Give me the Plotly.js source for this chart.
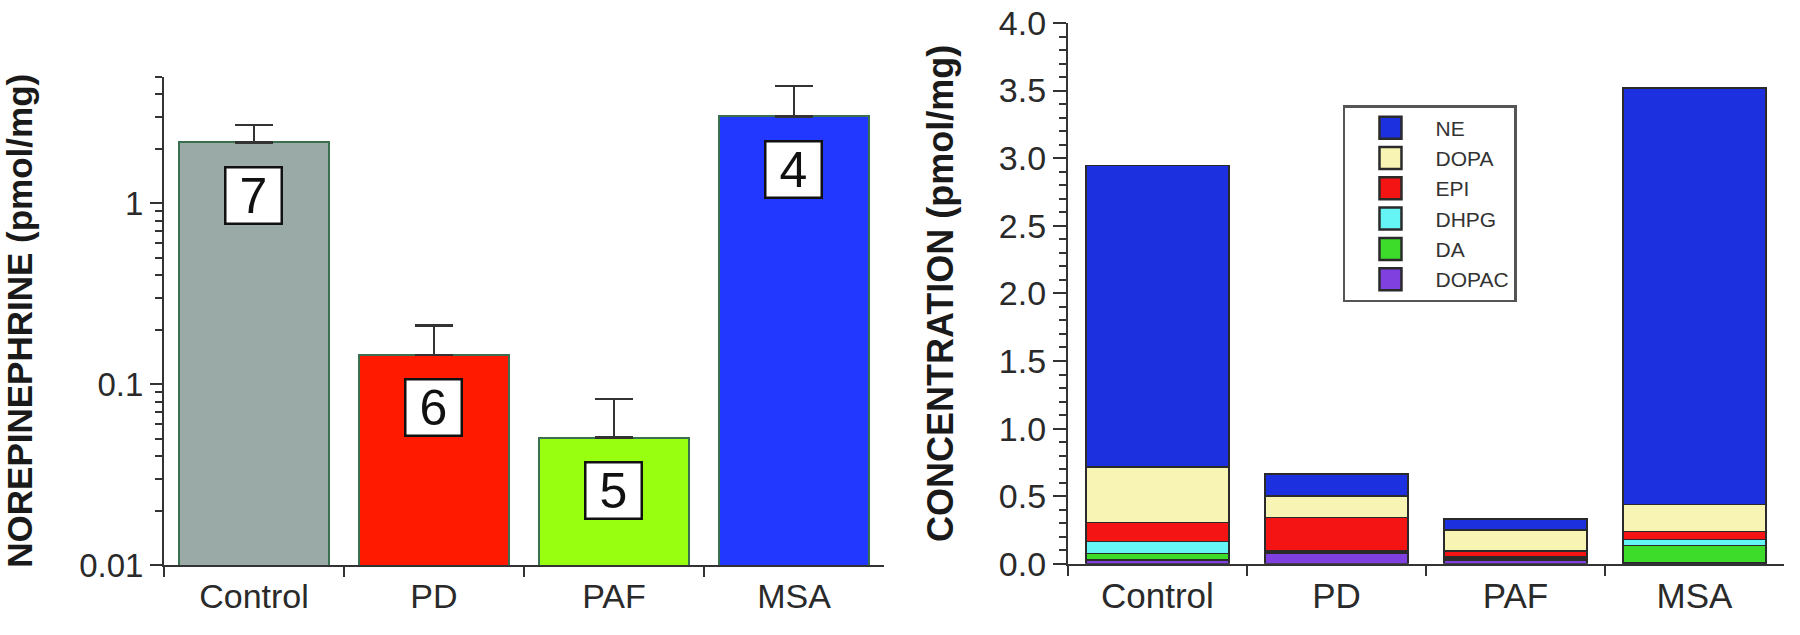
<!DOCTYPE html>
<html>
<head>
<meta charset="utf-8">
<script src="https://cdn.plot.ly/plotly-3.0.1.min.js"></script>
<style>
html, body { margin: 0; padding: 0; background: #fff; }
#chart { width: 1800px; height: 635px; }
</style>
</head>
<body>
<div id="chart"></div>
<script>
// ---- data ----
const categories = ['Control', 'PD', 'PAF', 'MSA'];
// left panel: norepinephrine (pmol/mg), mean and upper SEM
const neMean = [2.16, 0.145, 0.0505, 3.01];
const neSem = [0.54, 0.066, 0.032, 1.42];
const nSubjects = ['7', '6', '5', '4'];
const groupColors = ['#9aaaa6', '#ff1a00', '#99ff11', '#2238ff'];
// right panel: stacked concentrations (pmol/mg)
const seriesNames = ['DOPAC', 'DA', 'DHPG', 'EPI', 'DOPA', 'NE'];
const dopac = [0.03, 0.08, 0.03, 0.005];
const da = [0.045, 0.005, 0.01, 0.13];
const dhpg = [0.09, 0.008, 0.01, 0.045];
const epi = [0.14, 0.25, 0.045, 0.06];
const dopa = [0.41, 0.16, 0.155, 0.20];
const ne = [2.23, 0.16, 0.08, 3.08];
const seriesColors = ['#8040e0', '#3ddc2a', '#66f5f5', '#f51414', '#f8f5b4', '#1c30e0'];
const yTickVals = [0.01, 0.1, 1];
const yTickText = ['0.01', '0.1', '1'];
const yMinorVals = [0.02,0.03,0.04,0.05,0.06,0.07,0.08,0.09,0.2,0.3,0.4,0.5,0.6,0.7,0.8,0.9,2,3,4,5];

// ---- traces ----
const font = 'Liberation Sans, Arial, sans-serif';
const traces = [];
traces.push({
  type: 'bar', x: categories, y: neMean, xaxis: 'x', yaxis: 'y',
  width: 0.83, showlegend: false, hoverinfo: 'x+y',
  marker: { color: groupColors, line: { color: '#3a7050', width: 2 } },
  error_y: { type: 'data', symmetric: false, array: neSem,
             arrayminus: neSem.map(() => 0), color: '#333', thickness: 2.5, width: 19 }
});
const stackData = [dopac, da, dhpg, epi, dopa, ne];
stackData.forEach((vals, i) => {
  traces.push({
    type: 'bar', name: seriesNames[i], x: categories, y: vals,
    xaxis: 'x2', yaxis: 'y2', width: 0.8,
    marker: { color: seriesColors[i], line: { color: '#2a2a2a', width: 1.5 } }
  });
});

const annotations = categories.map((c, i) => ({
  xref: 'x', yref: 'y', x: c, y: Math.log10(neMean[i]),
  yshift: -53, yanchor: 'middle', xanchor: 'center',
  text: nSubjects[i], showarrow: false,
  font: { family: font, size: 50, color: '#111' },
  bgcolor: '#fff', bordercolor: '#111', borderwidth: 2.5, borderpad: 2,
  width: 50, height: 50
}));

const axisCommon = {
  showline: true, linecolor: '#333', linewidth: 2,
  ticks: 'outside', tickcolor: '#333', tickwidth: 2,
  showgrid: false, zeroline: false,
  tickfont: { family: font, size: 34, color: '#2a2a2a' }
};

const layout = {
  width: 1800, height: 635,
  margin: { l: 0, r: 0, t: 0, b: 0 },
  paper_bgcolor: '#fff', plot_bgcolor: '#fff',
  barmode: 'stack',
  font: { family: font, color: '#222' },
  xaxis: Object.assign({}, axisCommon, {
    domain: [0.0911, 0.4911], type: 'category', range: [-0.5, 3.5],
    tickson: 'boundaries', ticklen: 10, anchor: 'y'
  }),
  yaxis: Object.assign({}, axisCommon, {
    domain: [0.1102, 0.8795], type: 'log', range: [-2, Math.log10(5)],
    tickvals: yTickVals, ticktext: yTickText, ticklen: 12, anchor: 'x',
    tickfont: { family: font, size: 33, color: '#2a2a2a' },
    minor: { tickvals: yMinorVals, ticks: 'outside', ticklen: 7, tickwidth: 2, tickcolor: '#333', showgrid: false },
    title: { text: 'NOREPINEPHRINE (pmol/mg)', standoff: 38,
             font: { family: font, size: 35, weight: 'bold', color: '#1a1a1a' } }
  }),
  xaxis2: Object.assign({}, axisCommon, {
    domain: [0.5933, 0.9911], type: 'category', range: [-0.5, 3.5],
    tickson: 'boundaries', ticklen: 10, anchor: 'y2',
    tickfont: { family: font, size: 35, color: '#2a2a2a' }
  }),
  yaxis2: Object.assign({}, axisCommon, {
    domain: [0.1121, 0.9638], range: [0, 4], dtick: 0.5, tickformat: '.1f',
    ticklen: 13, anchor: 'x2',
    tickfont: { family: font, size: 34, color: '#2a2a2a' },
    minor: { dtick: 0.1, ticks: 'outside', ticklen: 7, tickwidth: 2, tickcolor: '#333', showgrid: false },
    title: { text: 'CONCENTRATION (pmol/mg)', standoff: 34,
             font: { family: font, size: 36, weight: 'bold', color: '#1a1a1a' } }
  }),
  legend: {
    x: 0.7461, y: 0.8346, xanchor: 'left', yanchor: 'top',
    xref: 'paper', yref: 'paper',
    traceorder: 'reversed', bgcolor: '#fff',
    bordercolor: '#555', borderwidth: 2.5,
    font: { family: font, size: 21, color: '#333' },
    itemwidth: 80
  },
  annotations: annotations
};

function enlargeSwatches() {
  document.querySelectorAll('.legend .legendpoints path').forEach(p => {
    p.setAttribute('d', 'M11,11H-11V-11H11Z');
    p.style.strokeWidth = '2.5px';
  });
}

Plotly.newPlot('chart', traces, layout, { displayModeBar: false }).then(enlargeSwatches);
</script>
</body>
</html>
